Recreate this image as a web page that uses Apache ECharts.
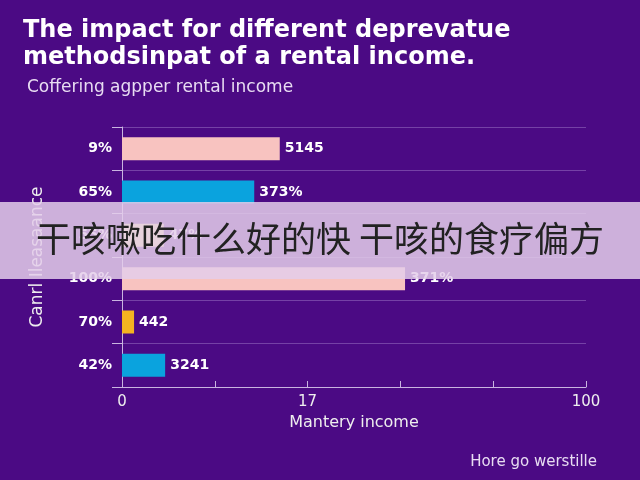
<!DOCTYPE html>
<html><head><meta charset="utf-8">
<script src="https://cdn.jsdelivr.net/npm/echarts@6/dist/echarts.min.js"></script>
<style>html,body{margin:0;padding:0;background:#4b0a84}#c{width:640px;height:480px}</style>
</head><body><div id="c"></div>
<script>
const categories = ['9%', '65%', '55%', '100%', '70%', '42%'];
const values = [34, 28.5, 9, 61, 2.6, 9.3];
const valueLabels = ['5145', '373%', '47%', '371%', '442', '3241'];
const barColors = ['#f8c3c0', '#0aa3de', '#f7e08a', '#f8c3c0', '#f5b321', '#0aa3de'];
const xTickLabels = {0: '0', 40: '17', 100: '100'};

const chart = echarts.init(document.getElementById('c'));
chart.setOption({
  backgroundColor: '#4b0a84',
  textStyle: {fontFamily: '"DejaVu Sans", sans-serif'},
  title: [
    {text: 'The impact for different deprevatue\nmethodsinpat of a rental income.', left: 18, top: 12,
     textStyle: {color: '#fff', fontSize: 24, fontWeight: 'bold', lineHeight: 27, fontFamily: '"DejaVu Sans", sans-serif'}},
    {text: 'Coffering agpper rental income', left: 22, top: 74,
     textStyle: {color: '#e8dcf2', fontSize: 17, fontWeight: 'normal', fontFamily: '"DejaVu Sans", sans-serif'}},
    {text: 'Hore go werstille', right: 38, top: 450,
     textStyle: {color: '#e8dcf2', fontSize: 15, fontWeight: 'normal', fontFamily: '"DejaVu Sans", sans-serif'}}
  ],
  grid: {left: 122, right: 54, top: 127, bottom: 93},
  xAxis: {
    type: 'value', min: 0, max: 100, interval: 20,
    name: 'Mantery income', nameLocation: 'middle', nameGap: 22,
    nameTextStyle: {color: '#eee', fontSize: 16},
    axisLine: {show: true, lineStyle: {color: '#c9b4e0'}},
    axisTick: {show: true, inside: true, length: 6, lineStyle: {color: '#c9b4e0'}},
    axisLabel: {color: '#eee', fontSize: 15, margin: 8, formatter: v => xTickLabels[v] || ''},
    splitLine: {show: false}
  },
  yAxis: {
    type: 'category', data: categories, inverse: true,
    name: 'Canrl Ileasaance', nameLocation: 'middle', nameGap: 76, nameRotate: 90,
    nameTextStyle: {color: '#eee', fontSize: 17},
    axisLine: {show: true, lineStyle: {color: '#c9b4e0'}},
    axisTick: {show: true, length: 10, lineStyle: {color: '#c9b4e0'}},
    axisLabel: {color: '#fff', fontSize: 14, fontWeight: 'bold', margin: 10},
    splitLine: {show: true, lineStyle: {color: 'rgba(160,120,200,0.5)'}}
  },
  series: [{
    type: 'bar', barWidth: 23,
    data: values.map((v, i) => ({value: v, itemStyle: {color: barColors[i]}})),
    label: {show: true, position: 'right', color: '#fff', fontSize: 14, fontWeight: 'bold',
            formatter: p => valueLabels[p.dataIndex]}
  }],
  graphic: [
    {type: 'rect', left: 0, top: 202, shape: {width: 640, height: 77}, style: {fill: 'rgba(228,206,234,0.85)'}, z: 100},
    {type: 'text', left: 'center', top: 221, z: 101,
     style: {text: '干咳嗽吃什么好的快 干咳的食疗偏方', fill: '#222', fontSize: 35, fontFamily: '"Noto Sans CJK SC"'}}
  ]
});
</script></body></html>
